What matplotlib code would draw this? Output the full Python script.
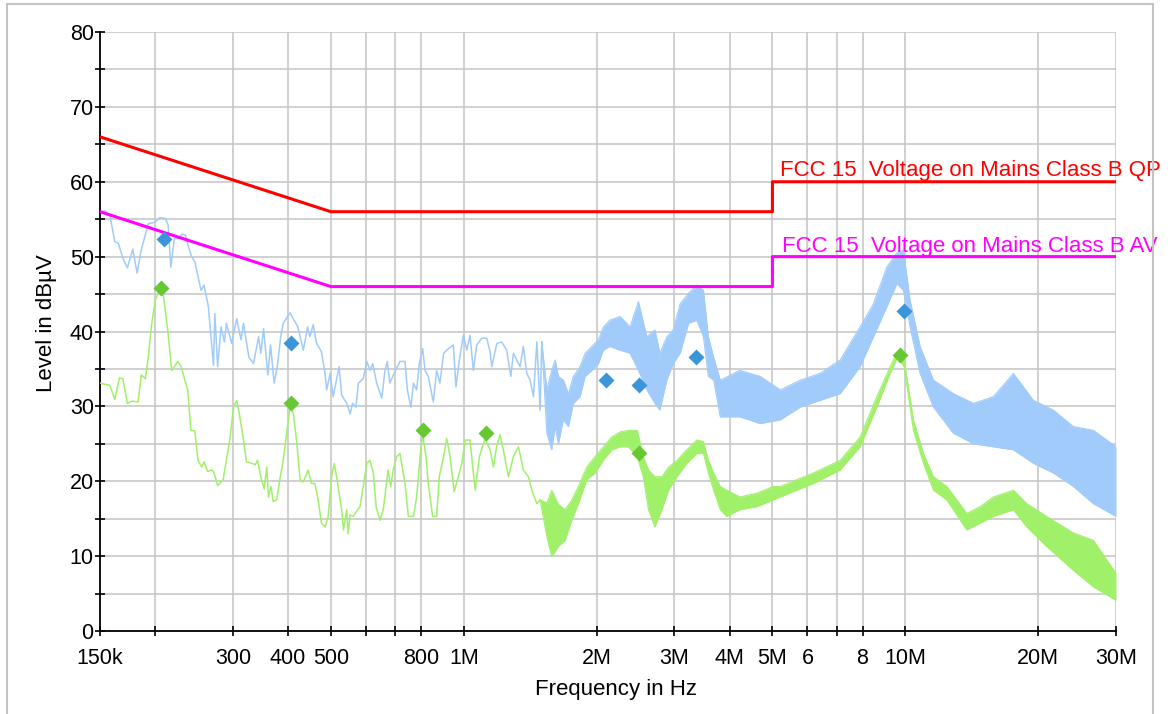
import numpy as np
import matplotlib
matplotlib.use("Agg")
import matplotlib.pyplot as plt
from matplotlib.patches import Rectangle
from matplotlib.ticker import NullFormatter

plt.rcParams["font.family"] = ["Liberation Sans", "DejaVu Sans"]

# ---------------- data (frequency in MHz, level in dBuV) ----------------
# limit lines
qp_lim_f = [0.15, 0.5, 5.0, 5.0, 30.0]
qp_lim_v = [66.0, 56.0, 56.0, 60.0, 60.0]
av_lim_f = [0.15, 0.5, 5.0, 5.0, 30.0]
av_lim_v = [56.0, 46.0, 46.0, 50.0, 50.0]

# peak trace, low frequency part (single line)
pk_f = [0.150, 0.154, 0.158, 0.162, 0.165, 0.169, 0.173, 0.178, 0.182, 0.186,
        0.193, 0.200, 0.205, 0.211, 0.214, 0.217, 0.221, 0.226, 0.230, 0.234,
        0.238, 0.242, 0.246, 0.254, 0.258, 0.264, 0.271, 0.273, 0.277, 0.282,
        0.287, 0.290, 0.298, 0.306, 0.313, 0.317, 0.326, 0.334, 0.343, 0.347,
        0.352, 0.360, 0.365, 0.372, 0.378, 0.385, 0.390, 0.404, 0.411, 0.421,
        0.433, 0.443, 0.448, 0.456, 0.464, 0.476, 0.485, 0.489, 0.498, 0.506,
        0.522, 0.529, 0.543, 0.553, 0.560, 0.570, 0.577, 0.592, 0.603, 0.613,
        0.622, 0.635, 0.652, 0.663, 0.671, 0.680, 0.700, 0.717, 0.736, 0.745,
        0.759, 0.769, 0.782, 0.793, 0.807, 0.817, 0.831, 0.853, 0.868, 0.883,
        0.900, 0.923, 0.947, 0.960, 0.977, 0.998, 1.016, 1.033, 1.051, 1.070,
        1.098, 1.127, 1.147, 1.157, 1.188, 1.219, 1.251, 1.278, 1.295, 1.341,
        1.364, 1.389, 1.413, 1.438, 1.464, 1.489, 1.502]
pk_v = [56.0, 56.1, 55.5, 52.0, 51.8, 49.8, 48.5, 51.0, 47.8, 50.9,
        54.4, 54.6, 55.2, 55.1, 54.2, 48.6, 52.4, 52.4, 53.0, 52.9,
        51.3, 50.0, 49.3, 45.5, 46.2, 43.3, 35.5, 42.4, 35.3, 40.6,
        38.6, 41.1, 38.4, 41.7, 38.9, 41.1, 36.6, 35.7, 39.3, 37.1,
        40.4, 34.2, 38.2, 33.1, 35.3, 39.3, 41.1, 42.5, 41.7, 40.6,
        37.5, 40.6, 39.3, 40.9, 38.4, 37.3, 34.4, 32.2, 34.4, 31.3,
        35.3, 31.5, 30.4, 29.0, 30.4, 29.9, 33.1, 33.7, 36.0, 34.8,
        35.7, 33.1, 31.1, 34.8, 36.0, 33.1, 34.8, 36.0, 36.0, 32.2,
        29.9, 33.1, 32.2, 35.7, 37.7, 34.8, 34.0, 30.6, 34.8, 33.1,
        37.1, 37.7, 38.2, 32.6, 36.2, 39.5, 37.5, 39.5, 34.8, 38.2,
        39.1, 39.1, 37.3, 35.3, 38.4, 38.6, 37.5, 34.0, 37.1, 35.3,
        38.0, 34.4, 33.5, 31.3, 38.6, 29.5, 38.6]

# peak trace, noisy part (upper / lower envelope)
pk_band_f = [1.542, 1.582, 1.610, 1.638, 1.681, 1.726, 1.771, 1.834, 1.883, 1.950,
             2.018, 2.071, 2.14, 2.26, 2.38, 2.486, 2.598, 2.71, 2.78, 2.883,
             2.98, 3.09, 3.23, 3.37, 3.49, 3.58, 3.68, 3.81, 4.22, 4.69,
             5.21, 5.78, 6.41, 7.12, 7.90, 8.47, 9.08, 9.57, 9.90, 10.25,
             10.80, 11.58, 12.85, 14.27, 15.83, 17.57, 19.50, 21.65, 24.02, 26.67,
             30.0]
pk_band_hi = [32.2, 34.8, 36.2, 34.0, 33.5, 31.7, 34.0, 35.3, 37.1, 38.0,
              38.9, 40.6, 41.5, 42.0, 40.6, 44.0, 39.3, 40.2, 37.1, 39.3,
              40.2, 43.7, 45.1, 46.2, 45.5, 39.3, 36.6, 33.5, 34.8, 34.0,
              32.2, 33.5, 34.4, 36.2, 40.6, 43.7, 48.6, 50.5, 50.9, 44.2,
              38.0, 33.5, 31.7, 30.4, 31.3, 34.4, 30.8, 29.5, 27.3, 26.8,
              24.6]
pk_band_lo = [26.4, 24.2, 27.3, 25.0, 28.2, 27.3, 30.4, 31.3, 34.0, 34.8,
              35.7, 37.5, 38.0, 37.5, 37.1, 34.8, 32.2, 30.4, 29.5, 33.5,
              35.7, 37.1, 41.1, 41.5, 39.3, 34.0, 33.5, 28.6, 28.6, 27.7,
              28.2, 29.9, 30.8, 31.7, 35.3, 39.3, 43.3, 46.4, 45.5, 40.6,
              34.4, 29.9, 26.4, 25.0, 24.6, 24.2, 22.4, 21.1, 19.3, 17.0,
              15.3]

# average trace, low frequency part
av_f = [0.150, 0.158, 0.162, 0.166, 0.169, 0.173, 0.177, 0.183, 0.186, 0.190,
        0.193, 0.196, 0.200, 0.206, 0.209, 0.214, 0.218, 0.225, 0.229, 0.237,
        0.241, 0.246, 0.250, 0.255, 0.258, 0.263, 0.269, 0.272, 0.277, 0.285,
        0.290, 0.295, 0.301, 0.306, 0.311, 0.317, 0.322, 0.331, 0.337, 0.341,
        0.347, 0.353, 0.358, 0.361, 0.366, 0.370, 0.377, 0.383, 0.390, 0.397,
        0.404, 0.411, 0.418, 0.426, 0.433, 0.444, 0.452, 0.460, 0.468, 0.476,
        0.485, 0.493, 0.502, 0.509, 0.515, 0.529, 0.534, 0.543, 0.547, 0.553,
        0.562, 0.572, 0.582, 0.592, 0.603, 0.613, 0.624, 0.633, 0.646, 0.657,
        0.674, 0.683, 0.692, 0.705, 0.717, 0.723, 0.736, 0.749, 0.769, 0.782,
        0.796, 0.807, 0.821, 0.831, 0.850, 0.868, 0.880, 0.900, 0.915, 0.931,
        0.951, 0.972, 0.990, 1.007, 1.033, 1.061, 1.085, 1.117, 1.147, 1.167,
        1.188, 1.208, 1.229, 1.262, 1.295, 1.330, 1.364, 1.400, 1.426, 1.464,
        1.489]
av_v = [33.1, 32.8, 30.9, 33.8, 33.7, 30.4, 30.7, 30.6, 34.2, 33.7,
        36.6, 40.6, 44.2, 45.9, 44.6, 39.7, 34.8, 36.0, 35.3, 32.2,
        26.8, 26.7, 22.8, 21.9, 22.6, 21.3, 21.5, 21.1, 19.4, 20.2,
        22.8, 25.5, 29.9, 30.8, 28.6, 25.5, 22.6, 22.4, 22.2, 22.8,
        20.6, 19.0, 21.9, 17.9, 19.3, 17.3, 17.5, 20.2, 22.8, 26.4,
        29.9, 29.1, 25.5, 20.2, 19.9, 21.5, 19.7, 19.7, 17.5, 14.4,
        13.9, 15.3, 20.6, 22.4, 20.6, 16.2, 13.5, 16.2, 13.0, 15.5,
        15.3, 16.0, 16.6, 19.3, 22.4, 22.8, 21.1, 16.6, 14.8, 16.2,
        21.5, 19.3, 21.5, 23.3, 23.7, 22.4, 19.7, 15.3, 15.3, 17.9,
        23.3, 26.2, 23.3, 19.7, 15.3, 15.3, 20.6, 23.3, 25.7, 23.3,
        18.6, 20.6, 22.4, 25.5, 25.5, 18.8, 23.3, 25.7, 24.2, 21.9,
        24.8, 26.2, 24.2, 20.6, 23.3, 24.6, 21.5, 20.6, 18.8, 17.0,
        17.5]

# average trace, noisy part
av_band_f = [1.542, 1.582, 1.638, 1.696, 1.756, 1.818, 1.899, 1.984, 2.071, 2.164,
             2.26, 2.36, 2.47, 2.55, 2.62, 2.71, 2.81, 2.91, 3.04, 3.20,
             3.37, 3.49, 3.58, 3.68, 3.81, 3.94, 4.22, 4.61, 5.02, 5.21,
             6.19, 7.12, 7.90, 8.62, 9.24, 9.60, 9.94, 10.43, 10.99, 11.58,
             12.42, 13.78, 14.77, 15.83, 17.57, 18.84, 20.9, 24.02, 26.67, 30.0]
av_band_hi = [17.1, 18.8, 16.9, 16.2, 17.5, 19.3, 21.9, 23.3, 24.6, 25.9,
              26.6, 26.8, 26.8, 23.3, 21.5, 20.6, 20.6, 21.9, 22.8, 24.2,
              25.5, 25.3, 22.8, 21.1, 19.3, 18.8, 17.9, 18.4, 19.3, 19.3,
              21.1, 22.8, 25.9, 31.3, 35.3, 37.3, 36.2, 28.2, 23.7, 20.6,
              19.3, 15.7, 16.6, 17.9, 18.8, 17.0, 15.3, 13.1, 12.1, 7.7]
av_band_lo = [12.6, 9.9, 11.3, 12.1, 14.8, 17.0, 20.2, 21.1, 22.8, 24.2,
              24.6, 24.6, 23.3, 20.6, 16.2, 13.9, 16.2, 18.8, 20.6, 22.4,
              23.7, 23.7, 21.1, 18.8, 16.2, 15.3, 16.2, 16.6, 17.5, 17.9,
              19.7, 21.5, 24.6, 29.9, 34.4, 36.6, 35.3, 26.8, 22.4, 18.8,
              17.5, 13.5, 14.4, 15.3, 16.2, 13.9, 11.3, 8.1, 5.9, 4.1]

# final measurement markers
qp_mk_f = [0.209, 0.406, 2.10, 2.49, 3.36, 9.95]
qp_mk_v = [52.3, 38.4, 33.5, 32.8, 36.6, 42.8]
av_mk_f = [0.206, 0.406, 0.810, 1.123, 2.49, 9.71]
av_mk_v = [45.8, 30.5, 26.9, 26.4, 23.8, 36.8]

# axis ticks
x_major = [0.15, 0.3, 0.4, 0.5, 0.8, 1, 2, 3, 4, 5, 6, 8, 10, 20, 30]
x_labels = ["150k", "300", "400", "500", "800", "1M", "2M", "3M", "4M",
            "5M", "6", "8", "10M", "20M", "30M"]
x_minor = [0.2, 0.6, 0.7, 7]
y_major = [0, 10, 20, 30, 40, 50, 60, 70, 80]
y_minor = [5, 15, 25, 35, 45, 55, 65, 75]

# ---------------- plot ----------------
pk_color = "#a0cbfa"
av_color = "#a0f06a"

fig = plt.figure(figsize=(11.7, 7.14), dpi=100)
ax = fig.add_axes([100 / 1170, 1 - 631 / 714, 1016 / 1170, 599 / 714])

# peak trace
ax.plot(pk_f, pk_v, color=pk_color, lw=1.1, zorder=2)
bf = [pk_f[-1]] + pk_band_f
bh = [pk_v[-1]] + pk_band_hi
bl = [pk_v[-1]] + pk_band_lo
ax.fill_between(bf, bl, bh, color=pk_color, lw=0, zorder=2)
ax.plot(bf, bh, color=pk_color, lw=0.8, zorder=2)
ax.plot(bf, bl, color=pk_color, lw=0.8, zorder=2)

# average trace
ax.plot(av_f, av_v, color=av_color, lw=1.1, zorder=3)
gf = [av_f[-1]] + av_band_f
gh = [av_v[-1]] + av_band_hi
gl = [av_v[-1]] + av_band_lo
ax.fill_between(gf, gl, gh, color=av_color, lw=0, zorder=3)
ax.plot(gf, gh, color=av_color, lw=0.8, zorder=3)
ax.plot(gf, gl, color=av_color, lw=0.8, zorder=3)

# limits
ax.plot(qp_lim_f, qp_lim_v, color="#ff0000", lw=2.2, zorder=4)
ax.plot(av_lim_f, av_lim_v, color="#ff00ff", lw=2.2, zorder=4)
ax.text(5.2, 60.8, "FCC 15  Voltage on Mains Class B QP", color="#ff0000",
        fontsize=16, clip_on=False, zorder=5)
ax.text(5.25, 50.6, "FCC 15  Voltage on Mains Class B AV", color="#ff00ff",
        fontsize=16, clip_on=False, zorder=5)

# markers
ax.plot(qp_mk_f, qp_mk_v, ls="none", marker="D", ms=8, color="#3d95d9",
        mec="none", zorder=6)
ax.plot(av_mk_f, av_mk_v, ls="none", marker="D", ms=8, color="#66c832",
        mec="none", zorder=6)

# axes
ax.set_xscale("log")
ax.set_xlim(0.15, 30)
ax.set_ylim(0, 80)
ax.set_xticks(x_major, x_labels)
ax.set_xticks(x_minor, minor=True)
ax.xaxis.set_minor_formatter(NullFormatter())
ax.set_yticks(y_major)
ax.set_yticks(y_minor, minor=True)
ax.grid(True, which="both", color="#c8c8c8", lw=1.2)
ax.set_axisbelow(True)

for s in ["top", "right"]:
    ax.spines[s].set_visible(False)
for s in ["left", "bottom"]:
    ax.spines[s].set_linewidth(1.3)
    ax.spines[s].set_color("black")

ax.tick_params(axis="both", which="both", direction="inout", width=1.2,
               colors="black")
ax.tick_params(axis="both", which="major", length=7, labelsize=15.5)
ax.tick_params(axis="both", which="minor", length=7)
ax.tick_params(axis="x", which="major", pad=9)
ax.tick_params(axis="y", which="major", pad=1)

ax.set_xlabel("Frequency in Hz", fontsize=16)
ax.set_ylabel("Level in dBµV", fontsize=16)
ax.xaxis.set_label_coords(0.508, -0.08)
ax.yaxis.set_label_coords(-0.042, 0.514)

# light frame around the whole picture
fig.patches.append(Rectangle((7 / 1170, -0.02), 1146 / 1170, 1 - 4 / 714 + 0.02,
                             transform=fig.transFigure, fill=False,
                             ec="#c4c4c4", lw=1.5))

fig.savefig("out.png", dpi=100)
